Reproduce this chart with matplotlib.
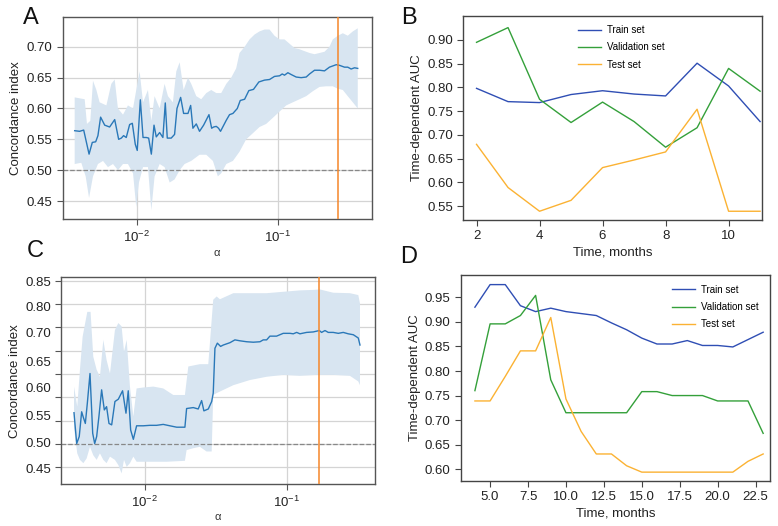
import numpy as np
import matplotlib
matplotlib.use("Agg")
import matplotlib.pyplot as plt
from matplotlib.ticker import NullLocator, FixedLocator, NullFormatter

plt.rcParams['font.family'] = ['Liberation Sans', 'DejaVu Sans']

# =========================================================
# Panel A - concordance index vs alpha
# =========================================================
a_log_alpha = [-2.442, -2.407, -2.378, -2.340, -2.317, -2.293, -2.277, -2.258, -2.229, -2.194,
               -2.158, -2.130, -2.111, -2.095, -2.076, -2.052, -2.033, -2.012, -1.998, -1.976,
               -1.957, -1.934, -1.917, -1.898, -1.879, -1.863, -1.839, -1.816, -1.799, -1.785,
               -1.757, -1.733, -1.716, -1.690, -1.669, -1.638, -1.619, -1.603, -1.579, -1.556,
               -1.527, -1.489, -1.470, -1.456, -1.437, -1.421, -1.407, -1.366, -1.343, -1.319,
               -1.288, -1.267, -1.236, -1.206, -1.173, -1.135, -1.095, -1.059, -1.024, -0.988,
               -0.969, -0.953, -0.929, -0.905, -0.870, -0.835, -0.799, -0.775, -0.740, -0.704,
               -0.669, -0.634, -0.586, -0.563, -0.527, -0.504, -0.480, -0.456, -0.433]
a_cindex = [0.564, 0.563, 0.565, 0.526, 0.545, 0.546, 0.556, 0.586, 0.573, 0.570,
            0.582, 0.550, 0.552, 0.556, 0.553, 0.574, 0.576, 0.542, 0.532, 0.614,
            0.553, 0.553, 0.552, 0.526, 0.573, 0.554, 0.561, 0.553, 0.609, 0.552,
            0.552, 0.558, 0.600, 0.618, 0.592, 0.592, 0.605, 0.568, 0.575, 0.563,
            0.573, 0.590, 0.568, 0.570, 0.571, 0.568, 0.563, 0.581, 0.590, 0.592,
            0.600, 0.613, 0.615, 0.629, 0.631, 0.643, 0.646, 0.647, 0.652, 0.653,
            0.656, 0.654, 0.658, 0.655, 0.651, 0.650, 0.651, 0.656, 0.662, 0.662,
            0.661, 0.667, 0.671, 0.670, 0.667, 0.667, 0.664, 0.666, 0.665]

a_up_log = [-2.442, -2.371, -2.355, -2.331, -2.312, -2.288, -2.265, -2.217, -2.182, -2.158,
            -2.135, -2.099, -2.064, -2.028, -2.005, -1.981, -1.957, -1.922, -1.898, -1.875,
            -1.839, -1.804, -1.780, -1.745, -1.721, -1.697, -1.669, -1.638, -1.615, -1.579,
            -1.544, -1.508, -1.473, -1.437, -1.402, -1.366, -1.331, -1.296, -1.272, -1.236,
            -1.201, -1.165, -1.130, -1.095, -1.059, -1.024, -0.988, -0.953, -0.917, -0.882,
            -0.846, -0.811, -0.775, -0.740, -0.704, -0.669, -0.634, -0.610, -0.574, -0.539,
            -0.504, -0.468, -0.433]
a_upper = [0.618, 0.615, 0.575, 0.580, 0.645, 0.630, 0.610, 0.605, 0.640, 0.647,
           0.600, 0.590, 0.605, 0.600, 0.630, 0.660, 0.610, 0.630, 0.580, 0.620,
           0.600, 0.640, 0.620, 0.610, 0.660, 0.675, 0.630, 0.650, 0.640, 0.620,
           0.615, 0.625, 0.630, 0.625, 0.625, 0.640, 0.650, 0.665, 0.690, 0.700,
           0.712, 0.720, 0.725, 0.728, 0.728, 0.718, 0.712, 0.712, 0.705, 0.698,
           0.696, 0.693, 0.690, 0.688, 0.690, 0.692, 0.700, 0.712, 0.718, 0.722,
           0.718, 0.725, 0.730]

a_lo_log = [-2.442, -2.395, -2.364, -2.340, -2.312, -2.277, -2.241, -2.206, -2.170, -2.135,
            -2.099, -2.064, -2.028, -2.005, -1.986, -1.957, -1.922, -1.898, -1.875, -1.839,
            -1.804, -1.768, -1.733, -1.697, -1.662, -1.615, -1.556, -1.508, -1.461, -1.426,
            -1.402, -1.366, -1.319, -1.272, -1.225, -1.177, -1.130, -1.083, -1.035, -0.988,
            -0.941, -0.894, -0.846, -0.799, -0.752, -0.704, -0.657, -0.610, -0.574, -0.539,
            -0.504, -0.468, -0.433]
a_lower = [0.510, 0.512, 0.490, 0.455, 0.490, 0.510, 0.515, 0.505, 0.510, 0.500,
           0.510, 0.510, 0.495, 0.440, 0.480, 0.505, 0.505, 0.435, 0.490, 0.510,
           0.505, 0.480, 0.485, 0.500, 0.510, 0.515, 0.525, 0.525, 0.515, 0.490,
           0.495, 0.510, 0.515, 0.530, 0.550, 0.560, 0.570, 0.575, 0.585, 0.595,
           0.605, 0.610, 0.615, 0.620, 0.628, 0.635, 0.636, 0.636, 0.632, 0.630,
           0.620, 0.610, 0.600]
a_best_alpha = 0.268

# =========================================================
# Panel C - concordance index vs alpha
# =========================================================
c_log_alpha = [-2.501, -2.482, -2.464, -2.447, -2.435, -2.421, -2.407, -2.388, -2.369, -2.355,
               -2.341, -2.325, -2.306, -2.287, -2.271, -2.254, -2.235, -2.212, -2.188, -2.158,
               -2.134, -2.118, -2.101, -2.082, -2.059, -2.012, -1.965, -1.918, -1.871, -1.824,
               -1.776, -1.718, -1.706, -1.659, -1.624, -1.600, -1.584, -1.553, -1.529, -1.518,
               -1.506, -1.489, -1.466, -1.447, -1.400, -1.365, -1.329, -1.282, -1.235, -1.188,
               -1.165, -1.141, -1.118, -1.071, -1.024, -0.976, -0.953, -0.929, -0.906, -0.859,
               -0.812, -0.769, -0.753, -0.729, -0.706, -0.671, -0.635, -0.600, -0.565, -0.529,
               -0.494, -0.482]
c_cindex = [0.567, 0.501, 0.516, 0.569, 0.557, 0.544, 0.587, 0.651, 0.523, 0.501,
            0.516, 0.559, 0.616, 0.573, 0.580, 0.544, 0.541, 0.591, 0.596, 0.614,
            0.566, 0.614, 0.530, 0.510, 0.539, 0.539, 0.540, 0.540, 0.542, 0.539,
            0.536, 0.536, 0.576, 0.578, 0.575, 0.593, 0.571, 0.575, 0.591, 0.609,
            0.705, 0.716, 0.709, 0.712, 0.717, 0.723, 0.721, 0.719, 0.718, 0.719,
            0.723, 0.723, 0.731, 0.731, 0.737, 0.737, 0.736, 0.739, 0.736, 0.739,
            0.740, 0.743, 0.739, 0.743, 0.739, 0.739, 0.737, 0.739, 0.736, 0.734,
            0.727, 0.712]

c_up_log = [-2.501, -2.478, -2.459, -2.440, -2.407, -2.384, -2.365, -2.341, -2.318, -2.294,
            -2.271, -2.247, -2.212, -2.188, -2.165, -2.148, -2.129, -2.106, -2.082, -2.059,
            -2.012, -1.941, -1.871, -1.800, -1.718, -1.694, -1.612, -1.553, -1.518, -1.494,
            -1.471, -1.376, -1.259, -1.141, -1.024, -0.906, -0.812, -0.765, -0.671, -0.553,
            -0.494, -0.482]
c_upper = [0.623, 0.580, 0.659, 0.730, 0.783, 0.783, 0.687, 0.659, 0.644, 0.723,
           0.680, 0.651, 0.744, 0.759, 0.752, 0.698, 0.723, 0.623, 0.559, 0.619,
           0.621, 0.623, 0.619, 0.605, 0.605, 0.666, 0.671, 0.671, 0.809, 0.816,
           0.810, 0.823, 0.823, 0.823, 0.826, 0.829, 0.830, 0.831, 0.824, 0.823,
           0.819, 0.801]

c_lo_log = [-2.501, -2.478, -2.459, -2.435, -2.412, -2.388, -2.365, -2.341, -2.318, -2.294,
            -2.271, -2.247, -2.212, -2.188, -2.165, -2.148, -2.129, -2.106, -2.082, -2.059,
            -1.965, -1.847, -1.718, -1.706, -1.659, -1.612, -1.565, -1.529, -1.518, -1.494,
            -1.376, -1.259, -1.141, -1.024, -0.906, -0.788, -0.671, -0.553, -0.494, -0.482]
c_lower = [0.534, 0.480, 0.466, 0.459, 0.469, 0.494, 0.476, 0.466, 0.480, 0.466,
           0.459, 0.473, 0.466, 0.455, 0.437, 0.466, 0.451, 0.459, 0.473, 0.462,
           0.462, 0.462, 0.464, 0.487, 0.491, 0.494, 0.484, 0.484, 0.605, 0.609,
           0.626, 0.637, 0.644, 0.648, 0.646, 0.648, 0.648, 0.646, 0.634, 0.626]
c_best_alpha = 0.170
# y tick labels as printed in panel C (they sit off the grid in the source figure)
c_ytick_text = ['0.85', '0.80', '0.70', '0.65', '0.60', '0.55', '0.50', '0.45']
c_ytick_pos = [0.848, 0.795, 0.738, 0.677, 0.621, 0.561, 0.504, 0.448]

# =========================================================
# Panel B / D - time-dependent AUC
# =========================================================
b_months = [2, 3, 4, 5, 6, 7, 8, 9, 10, 11]
b_train = [0.798, 0.770, 0.768, 0.785, 0.793, 0.786, 0.782, 0.851, 0.803, 0.728]
b_valid = [0.895, 0.926, 0.775, 0.726, 0.769, 0.728, 0.674, 0.715, 0.840, 0.792]
b_test = [0.680, 0.589, 0.539, 0.562, 0.631, 0.647, 0.664, 0.754, 0.539, 0.539]

d_months = list(range(4, 24))
d_train = [0.930, 0.976, 0.976, 0.933, 0.921, 0.928, 0.921, 0.917, 0.913, 0.898,
           0.884, 0.867, 0.855, 0.855, 0.862, 0.852, 0.852, 0.849, 0.864, 0.879]
d_valid = [0.760, 0.896, 0.896, 0.913, 0.954, 0.782, 0.715, 0.715, 0.715, 0.715,
           0.715, 0.758, 0.758, 0.750, 0.750, 0.750, 0.739, 0.739, 0.739, 0.673]
d_test = [0.739, 0.739, 0.789, 0.841, 0.841, 0.909, 0.743, 0.677, 0.631, 0.631,
          0.607, 0.594, 0.594, 0.594, 0.594, 0.594, 0.594, 0.594, 0.616, 0.631]

set_names = ['Train set', 'Validation set', 'Test set']
set_colors = ['#2f4eb4', '#34a03a', '#fbb233']

LINE_C = '#2a78b8'
FILL_C = '#d8e5f1'
GRID_C = '#d4d4d4'
SPINE_C = '#555555'

fig = plt.figure(figsize=(7.78, 5.26), dpi=100)


def alpha_panel(ax, log_x, y, up_log, up, lo_log, lo, best, xlim, ylim, yticks):
    x = 10 ** np.array(log_x)
    poly_x = np.concatenate([10 ** np.array(up_log), (10 ** np.array(lo_log))[::-1]])
    poly_y = np.concatenate([up, lo[::-1]])
    ax.fill(poly_x, poly_y, color=FILL_C, lw=0, zorder=1)
    ax.plot(x, y, color=LINE_C, lw=1.0, zorder=3)
    ax.axhline(0.5, color='#888888', lw=0.9, ls='--', zorder=2)
    ax.axvline(best, color='#f5862a', lw=1.1, zorder=4)
    ax.set_xscale('log')
    ax.set_xlim(xlim)
    ax.set_ylim(ylim)
    ax.xaxis.set_major_locator(FixedLocator([1e-2, 1e-1]))
    ax.xaxis.set_minor_locator(NullLocator())
    ax.set_yticks(yticks)
    ax.grid(True, color=GRID_C, lw=0.9, zorder=0)
    ax.set_axisbelow(True)
    for s in ax.spines.values():
        s.set_color(SPINE_C)
        s.set_linewidth(1.0)
    ax.tick_params(axis='both', colors=SPINE_C, labelcolor='#222222', labelsize=9.5,
                   length=4, width=0.8)
    ax.set_xlabel('α', fontsize=8, color='#333333', labelpad=2)
    ax.set_ylabel('Concordance index', fontsize=9.5, color='#222222', labelpad=3)


# Panel A
axA = fig.add_axes([0.0806, 0.583, 0.397, 0.385])
alpha_panel(axA, a_log_alpha, a_cindex, a_up_log, a_upper, a_lo_log, a_lower,
            a_best_alpha, (10 ** -2.527, 10 ** -0.335), (0.4203, 0.7486),
            [0.45, 0.50, 0.55, 0.60, 0.65, 0.70])
axA.yaxis.set_major_formatter(matplotlib.ticker.FormatStrFormatter('%.2f'))

# Panel C
axC = fig.add_axes([0.078, 0.0798, 0.404, 0.393])
alpha_panel(axC, c_log_alpha, c_cindex, c_up_log, c_upper, c_lo_log, c_lower,
            c_best_alpha, (10 ** -2.595, 10 ** -0.376), (0.4143, 0.857),
            [0.45, 0.50, 0.55, 0.60, 0.65, 0.70, 0.75, 0.80, 0.85])
axC.yaxis.set_major_formatter(NullFormatter())
axC.yaxis.set_minor_locator(FixedLocator(c_ytick_pos))
axC.yaxis.set_minor_formatter(matplotlib.ticker.FixedFormatter(c_ytick_text))
axC.tick_params(axis='y', which='minor', length=0, labelsize=9.5, labelcolor='#222222', pad=7)


def auc_panel(ax, months, series, xlim, ylim, yticks, xticks, xfmt, leg_anchor):
    for vals, name, col in zip(series, set_names, set_colors):
        ax.plot(months, vals, color=col, lw=1.0, label=name)
    ax.set_xlim(xlim)
    ax.set_ylim(ylim)
    ax.set_yticks(yticks)
    ax.set_xticks(xticks)
    ax.xaxis.set_major_formatter(matplotlib.ticker.FormatStrFormatter(xfmt))
    ax.yaxis.set_major_formatter(matplotlib.ticker.FormatStrFormatter('%.2f'))
    for s in ax.spines.values():
        s.set_color('#444444')
        s.set_linewidth(1.0)
    ax.tick_params(axis='both', colors='#444444', labelcolor='#222222', labelsize=9.5,
                   length=4, width=0.8)
    ax.set_xlabel('Time, months', fontsize=9.5, color='#222222', labelpad=3)
    ax.set_ylabel('Time-dependent AUC', fontsize=9.5, color='#222222', labelpad=3)
    ax.legend(loc='upper left', bbox_to_anchor=leg_anchor, frameon=False, fontsize=7,
              handlelength=2.4, handletextpad=0.6, labelspacing=0.75, borderaxespad=0)


# Panel B
axB = fig.add_axes([0.5955, 0.5817, 0.3835, 0.388])
auc_panel(axB, b_months, [b_train, b_valid, b_test], (1.58, 11.05), (0.5205, 0.9506),
          [0.55, 0.60, 0.65, 0.70, 0.75, 0.80, 0.85, 0.90], [2, 4, 6, 8, 10], '%d',
          (0.37, 0.975))

# Panel D
axD = fig.add_axes([0.5925, 0.0856, 0.397, 0.392])
auc_panel(axD, d_months, [d_train, d_valid, d_test], (3.08, 23.44), (0.576, 0.996),
          [0.60, 0.65, 0.70, 0.75, 0.80, 0.85, 0.90, 0.95],
          [5, 7.5, 10, 12.5, 15, 17.5, 20, 22.5], '%.1f', (0.67, 0.97))

# Panel letters
for lbl, (x, y) in zip(['A', 'B', 'C', 'D'],
                       [(0.030, 0.965), (0.516, 0.965), (0.034, 0.523), (0.514, 0.511)]):
    fig.text(x, y, lbl, fontsize=17, color='#111111', va='center', ha='left')

fig.savefig('out.png', dpi=100)
